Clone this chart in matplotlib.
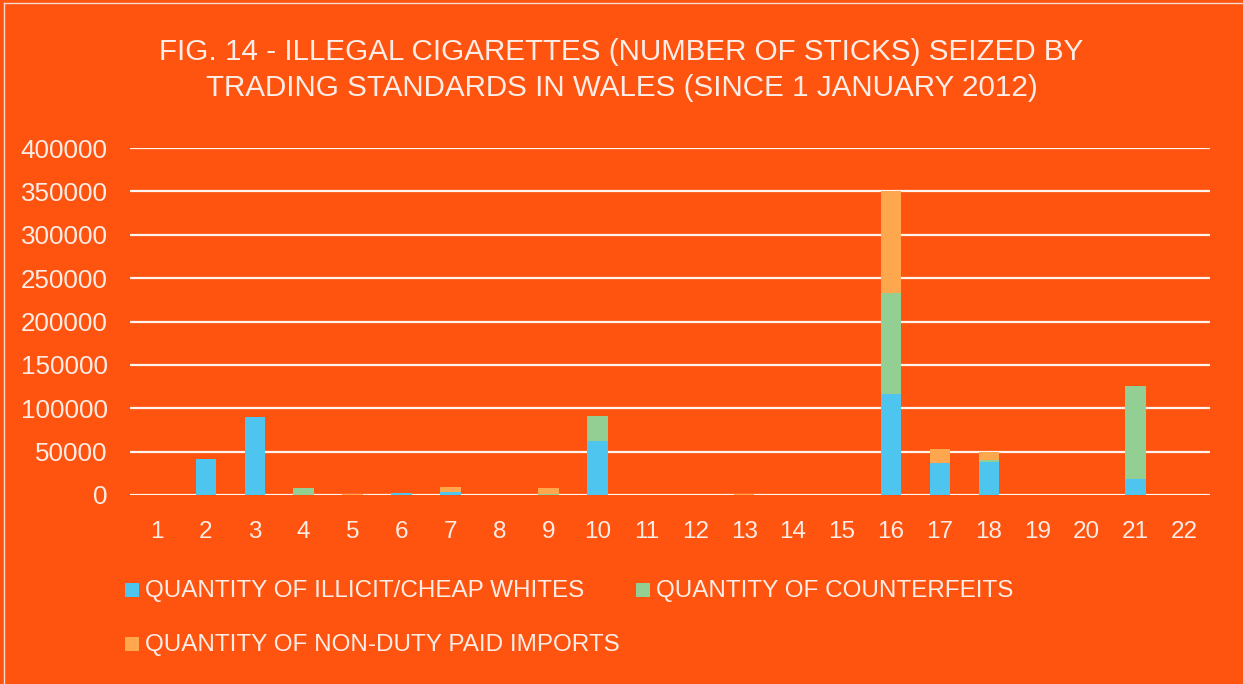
import matplotlib
matplotlib.use("Agg")
import matplotlib.pyplot as plt
from matplotlib.patches import Rectangle
import numpy as np

plt.rcParams['font.family'] = ['Liberation Sans', 'DejaVu Sans']

categories = [str(i) for i in range(1, 23)]
cheap_whites = [0, 41000, 89500, 0, 0, 2000, 4000, 0, 0, 62000, 0,
                0, 0, 0, 0, 116000, 36500, 38500, 0, 0, 18500, 0]
counterfeits = [0, 1000, 0, 7700, 0, 0, 0, 0, 1500, 28500, 0,
                0, 0, 0, 0, 117000, 0, 1500, 0, 0, 107000, 0]
non_duty_paid = [0, 0, 0, 0, 1500, 0, 5500, 0, 6200, 1000, 0,
                 0, 1500, 0, 0, 117500, 17000, 10000, 0, 0, 0, 0]
series_names = ["QUANTITY OF ILLICIT/CHEAP WHITES",
                "QUANTITY OF COUNTERFEITS",
                "QUANTITY OF NON-DUTY PAID IMPORTS"]
y_ticks = [0, 50000, 100000, 150000, 200000, 250000, 300000, 350000, 400000]

BG = "#FE540F"
COLORS = ["#4EC5EE", "#93CF92", "#FEA74F"]
TXT = "#FDEDE6"

W, H = 1243, 684
fig = plt.figure(figsize=(W / 100, H / 100), dpi=100, facecolor=BG)
ax = fig.add_axes([130 / W, 1 - 495 / H, 1080 / W, 347 / H])
ax.set_facecolor(BG)

x = np.arange(1, len(categories) + 1)
w = 0.42
bottom = np.zeros(len(x))
for vals, col in zip([cheap_whites, counterfeits, non_duty_paid], COLORS):
    v = np.array(vals, dtype=float)
    ax.bar(x, v, w, bottom=bottom, color=col, zorder=3, linewidth=0)
    bottom += v

ax.set_xlim(0.45, 22.52)
ax.set_ylim(0, 400000)
ax.set_yticks(y_ticks)
ax.set_yticklabels([str(t) for t in y_ticks], fontsize=18.7, color=TXT)
ax.set_xticks(x)
ax.set_xticklabels(categories, fontsize=17.5, color=TXT)
ax.tick_params(axis='both', length=0)
ax.tick_params(axis='y', pad=16)
ax.tick_params(axis='x', pad=19)
ax.grid(axis='y', color="#FFF3EE", linewidth=1.6, zorder=1)
for s in ax.spines.values():
    s.set_visible(False)

fig.text(0.5, 1 - 52 / H,
         "FIG. 14 - ILLEGAL CIGARETTES (NUMBER OF STICKS) SEIZED BY",
         ha='center', va='center', fontsize=21.3, color=TXT)
fig.text(0.5, 1 - 88 / H,
         "TRADING STANDARDS IN WALES (SINCE 1 JANUARY 2012)",
         ha='center', va='center', fontsize=21.3, color=TXT)

# legend entries: colour square followed by label
legend_pos = [(125, 583), (636, 583), (125, 637)]
for (px, py), name, col in zip(legend_pos, series_names, COLORS):
    fig.patches.append(Rectangle((px / W, 1 - (py + 14) / H), 14 / W, 14 / H,
                                 transform=fig.transFigure, facecolor=col,
                                 edgecolor='none'))
    fig.text((px + 20) / W, 1 - (py + 8) / H, name, ha='left', va='center',
             fontsize=17.5, color=TXT)

# thin light edge on the left and top
fig.add_artist(plt.Line2D([3.5 / W, 3.5 / W], [0, 1 - 3 / H],
                          transform=fig.transFigure, color="#F6D9CC", linewidth=1))
fig.add_artist(plt.Line2D([3.5 / W, 1], [1 - 3 / H, 1 - 3 / H],
                          transform=fig.transFigure, color="#F6D9CC", linewidth=1))

fig.savefig("out.png", dpi=100, facecolor=BG)
